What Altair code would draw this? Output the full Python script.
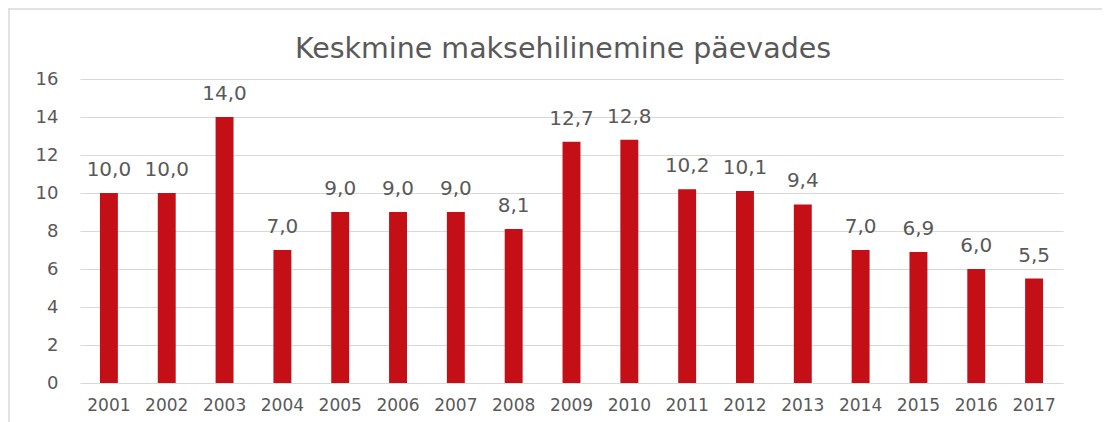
import altair as alt
import pandas as pd

years = [str(y) for y in range(2001, 2018)]
values = [10.0, 10.0, 14.0, 7.0, 9.0, 9.0, 9.0, 8.1, 12.7, 12.8, 10.2, 10.1, 9.4, 7.0, 6.9, 6.0, 5.5]
y_ticks = [0, 2, 4, 6, 8, 10, 12, 14, 16]
title_text = ["Keskmine maksehilinemine päevades"]

df = pd.DataFrame({"year": years, "value": values})
tdf = pd.DataFrame({"t": title_text})

FONT = "DejaVu Sans"
GRAY = "#595959"
RED = "#C40F16"

base = alt.Chart(df)

x_enc = alt.X("year:N", sort=years, title=None,
              scale=alt.Scale(paddingInner=0.69, paddingOuter=0.345),
              axis=alt.Axis(labelAngle=0, ticks=False, domain=False, labelPadding=14,
                            labelFontSize=17, labelColor=GRAY, labelFont=FONT))
y_axis = alt.Axis(values=y_ticks, ticks=False, domain=False, labelPadding=22,
                  labelFontSize=18, labelColor=GRAY, labelFont=FONT,
                  gridColor="#d9d9d9", gridWidth=1.2, labelOverlap=False)
y_enc = alt.Y("value:Q", title=None,
              scale=alt.Scale(domain=[0, 16], nice=False), axis=y_axis)

bars = base.mark_bar(color=RED).encode(x=x_enc, y=y_enc)

labels = base.transform_calculate(
    lab="replace(format(datum.value, '.1f'), '.', ',')"
).mark_text(baseline="alphabetic", dy=-17, fontSize=20, color=GRAY, font=FONT).encode(
    x=x_enc,
    y=y_enc,
    text="lab:N",
)

title = alt.Chart(tdf).mark_text(fontSize=28.5, color=GRAY, font=FONT,
                                 baseline="alphabetic", align="center").encode(
    x=alt.value(483), y=alt.value(-21), text="t:N"
)

border_left = alt.Chart(tdf).mark_rule(color="#d9d9d9", strokeWidth=1.5).encode(
    x=alt.value(-71), y=alt.value(-71), y2=alt.value(420)
)
border_top = alt.Chart(tdf).mark_rule(color="#d9d9d9", strokeWidth=1.5).encode(
    x=alt.value(-71), x2=alt.value(1100), y=alt.value(-70)
)

chart = alt.layer(border_left, border_top, bars, labels, title).properties(
    width=983,
    height=304,
    autosize=alt.AutoSizeParams(type="none"),
    padding={"left": 72, "top": 71, "right": 39, "bottom": 39},
).configure_view(stroke=None)

chart.save("out.html", embed_options={"renderer": "svg", "actions": False})
